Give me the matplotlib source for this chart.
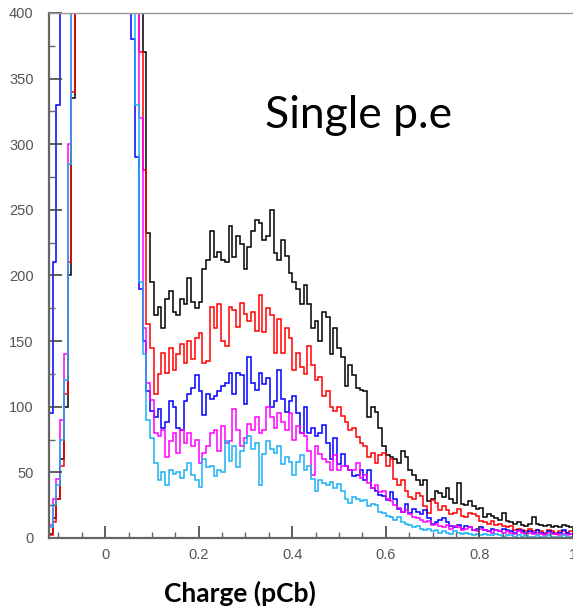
import numpy as np
import matplotlib
matplotlib.use('Agg')
import matplotlib.pyplot as plt
from matplotlib.ticker import MultipleLocator

# histogram binning (charge in pCb)
x_lo, x_hi, n_bins = -0.12, 1.0, 140

# bin contents, one list per curve
black = [3, 15, 30, 60, 100, 200, 335, 700, 1400, 2500,
         3800, 5200, 6400, 7100, 7300, 6900, 6000, 4800, 3500, 2400,
         1500, 900, 620, 480, 450, 370, 232, 195, 170, 176,
         160, 182, 188, 172, 170, 182, 178, 198, 180, 175,
         180, 205, 212, 234, 214, 218, 212, 210, 238, 214,
         230, 224, 205, 222, 234, 242, 240, 227, 230, 250,
         217, 212, 227, 215, 202, 195, 190, 178, 193, 178,
         160, 165, 150, 172, 168, 140, 160, 145, 138, 116,
         132, 124, 114, 113, 112, 92, 100, 96, 84, 70,
         63, 62, 60, 57, 66, 62, 52, 48, 44, 40,
         44, 28, 30, 36, 34, 31, 38, 30, 27, 42,
         26, 25, 28, 24, 22, 23, 16, 18, 17, 15,
         14, 19, 13, 12, 11, 12, 10, 9, 11, 16,
         11, 10, 9, 10, 8, 9, 8, 10, 9, 8]

red = [2, 12, 30, 55, 110, 210, 340, 680, 1350, 2450,
       3700, 5100, 6300, 7000, 7200, 6800, 5900, 4700, 3400, 2300,
       1400, 850, 590, 460, 370, 280, 163, 145, 110, 125,
       141, 126, 145, 128, 140, 148, 133, 150, 136, 152,
       156, 133, 135, 176, 160, 178, 150, 146, 176, 174,
       161, 179, 171, 165, 172, 158, 185, 157, 175, 170,
       141, 167, 141, 160, 152, 128, 141, 130, 125, 146,
       132, 120, 123, 108, 112, 100, 97, 100, 93, 88,
       82, 84, 77, 72, 70, 62, 65, 57, 63, 65,
       55, 60, 45, 40, 44, 36, 31, 30, 34, 32,
       24, 19, 29, 27, 21, 24, 21, 18, 19, 22,
       17, 16, 19, 18, 17, 13, 12, 11, 13, 10,
       11, 9, 8, 9, 6, 7, 6, 5, 7, 5,
       6, 5, 4, 6, 5, 4, 5, 5, 4, 5]

blue = [95, 210, 330, 800, 1600, 2800, 4100, 5500, 6600, 7200,
        7300, 6900, 6100, 5000, 3800, 2700, 1800, 1200, 820, 600,
        500, 440, 380, 290, 190, 150, 112, 97, 92, 98,
        84, 88, 104, 100, 84, 82, 104, 110, 114, 124,
        112, 94, 110, 106, 108, 112, 116, 118, 126, 110,
        126, 124, 102, 138, 118, 113, 126, 117, 122, 100,
        104, 128, 106, 96, 104, 108, 95, 80, 100, 80,
        84, 78, 80, 86, 72, 60, 76, 56, 64, 55,
        52, 47, 48, 52, 44, 52, 38, 36, 33, 32,
        29, 35, 30, 22, 20, 26, 19, 22, 20, 18,
        21, 15, 11, 12, 14, 15, 12, 9, 8, 10,
        7, 9, 8, 6, 7, 8, 6, 5, 7, 6,
        5, 7, 6, 5, 4, 6, 5, 4, 5, 4,
        6, 4, 3, 5, 4, 3, 4, 6, 4, 3]

magenta = [10, 30, 45, 90, 140, 300, 650, 1300, 2400, 3600,
           5000, 6200, 7000, 7300, 7100, 6400, 5300, 4100, 2900, 1900,
           1200, 780, 560, 430, 320, 160, 118, 105, 80, 78,
           82, 62, 74, 80, 65, 82, 72, 80, 70, 75,
           57, 65, 70, 80, 82, 66, 85, 72, 74, 98,
           82, 70, 76, 87, 82, 92, 80, 82, 100, 92,
           84, 95, 88, 82, 95, 75, 85, 80, 78, 66,
           48, 70, 64, 60, 58, 52, 63, 52, 55, 55,
           52, 52, 57, 46, 48, 42, 38, 40, 35, 36,
           30, 28, 25, 23, 20, 21, 18, 16, 15, 14,
           12, 13, 10, 11, 9, 8, 10, 7, 9, 8,
           6, 7, 8, 6, 5, 7, 6, 5, 4, 6,
           5, 4, 5, 4, 3, 5, 4, 3, 4, 3,
           4, 3, 2, 4, 3, 3, 2, 3, 2, 3]

cyan = [8, 25, 40, 75, 120, 285, 620, 1250, 2300, 3500,
        4900, 6100, 6900, 7200, 7000, 6300, 5200, 4000, 2800, 1800,
        1100, 720, 520, 330, 195, 140, 90, 76, 57, 44,
        50, 40, 52, 49, 50, 46, 52, 57, 48, 44,
        39, 60, 54, 55, 47, 52, 50, 74, 59, 70,
        54, 66, 72, 78, 68, 72, 40, 64, 74, 68,
        65, 70, 56, 62, 58, 48, 58, 63, 52, 55,
        45, 36, 44, 42, 40, 43, 38, 41, 36, 30,
        27, 31, 30, 28, 29, 24, 26, 25, 20, 19,
        17, 16, 14, 16, 12, 11, 10, 8, 9, 7,
        6, 7, 5, 6, 4, 5, 4, 3, 5, 4,
        3, 4, 3, 2, 3, 2, 3, 2, 2, 3,
        2, 1, 2, 2, 1, 2, 1, 2, 1, 1,
        2, 1, 1, 2, 1, 1, 1, 2, 1, 1]

series = [(black, 'black'), (red, '#ff0000'), (blue, '#0000ff'),
          (magenta, '#ff00ff'), (cyan, '#1ab2f2')]

edges = np.linspace(x_lo, x_hi, n_bins + 1)

fig = plt.figure(figsize=(5.73, 6.07), dpi=100)
ax = fig.add_axes([0.0855, 0.1137, 0.9145, 0.8649])

for vals, col in series:
    ax.stairs(vals, edges, color=col, lw=1.1, baseline=0)

ax.set_xlim(x_lo, x_hi)
ax.set_ylim(0, 400)

# ROOT-like frame and ticks
for s in ['left', 'bottom']:
    ax.spines[s].set_color('#666666')
    ax.spines[s].set_linewidth(1.6)
ax.spines['top'].set_color('#999999')
ax.spines['top'].set_linewidth(1.0)
ax.spines['right'].set_visible(False)

ax.xaxis.set_major_locator(MultipleLocator(0.2))
ax.xaxis.set_minor_locator(MultipleLocator(0.05))
ax.yaxis.set_major_locator(MultipleLocator(50))
ax.yaxis.set_minor_locator(MultipleLocator(25))
ax.tick_params(which='major', direction='in', length=9, width=1.2, color='#444444',
               labelsize=10.5, labelcolor='#555555', top=False, right=False)
ax.tick_params(which='minor', direction='in', length=4.5, width=1.0, color='#666666',
               top=False, right=False)
ax.tick_params(axis='x', pad=7)
ax.tick_params(axis='y', pad=11)
ax.set_xticks([0, 0.2, 0.4, 0.6, 0.8, 1.0])
ax.set_xticklabels(['0', '0.2', '0.4', '0.6', '0.8', '1'])
for lab in ax.get_xticklabels() + ax.get_yticklabels():
    lab.set_family('Liberation Sans')

fig.text(0.625, 0.81, 'Single p.e', fontsize=32, family='Lato', ha='center', va='center')
fig.text(0.418, 0.023, 'Charge (pCb)', fontsize=19, family='Lato', fontweight='bold',
         ha='center', va='center')

fig.savefig('out.png', dpi=100)
